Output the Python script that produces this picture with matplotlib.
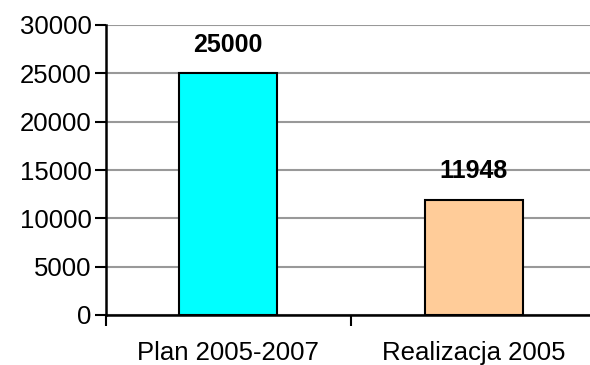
import matplotlib.pyplot as plt
import numpy as np

plt.rcParams['font.family'] = ['Liberation Sans', 'DejaVu Sans']

## DATA

categories = ['Plan 2005-2007', 'Realizacja 2005']
values = [25000, 11948]
bar_colors = ['#00FFFF', '#FFCC99']
y_ticks = [0, 5000, 10000, 15000, 20000, 25000, 30000]

## PLOT

fig = plt.figure(figsize=(5.9, 3.65), dpi=100)
ax = fig.add_axes([105.5 / 590, 50 / 365, 491 / 590, 290 / 365])

x = np.arange(len(categories))
bars = ax.bar(x, values, width=0.4, color=bar_colors, edgecolor='black', linewidth=1.5, zorder=3)

# value labels above the bars
for rect, v in zip(bars, values):
    ax.annotate(str(v), (rect.get_x() + rect.get_width() / 2, v),
                xytext=(0, 12), textcoords='offset points',
                ha='center', va='bottom', fontsize=18, fontweight='bold')

ax.set_xlim(-0.5, len(categories) - 0.5)
ax.set_ylim(0, 30000)
ax.set_yticks(y_ticks)
ax.set_yticklabels([str(t) for t in y_ticks], fontsize=18.5)

# category ticks sit between the categories, labels at the centers
ax.set_xticks(np.arange(len(categories) + 1) - 0.5)
ax.set_xticklabels([])
ax.set_xticks(x, minor=True)
ax.set_xticklabels(categories, minor=True, fontsize=18.5)
ax.tick_params(axis='x', which='minor', length=0, pad=19)
ax.tick_params(axis='x', which='major', length=8, width=1.5, direction='out')
ax.tick_params(axis='y', length=8, width=1.5, direction='out', pad=2)

ax.yaxis.grid(True, color='#999999', linewidth=1.5, zorder=0)
ax.set_axisbelow(True)

for side in ['top', 'right']:
    ax.spines[side].set_visible(False)
for side in ['left', 'bottom']:
    ax.spines[side].set_linewidth(1.8)
    ax.spines[side].set_zorder(4)

fig.savefig('out.png', dpi=100)
